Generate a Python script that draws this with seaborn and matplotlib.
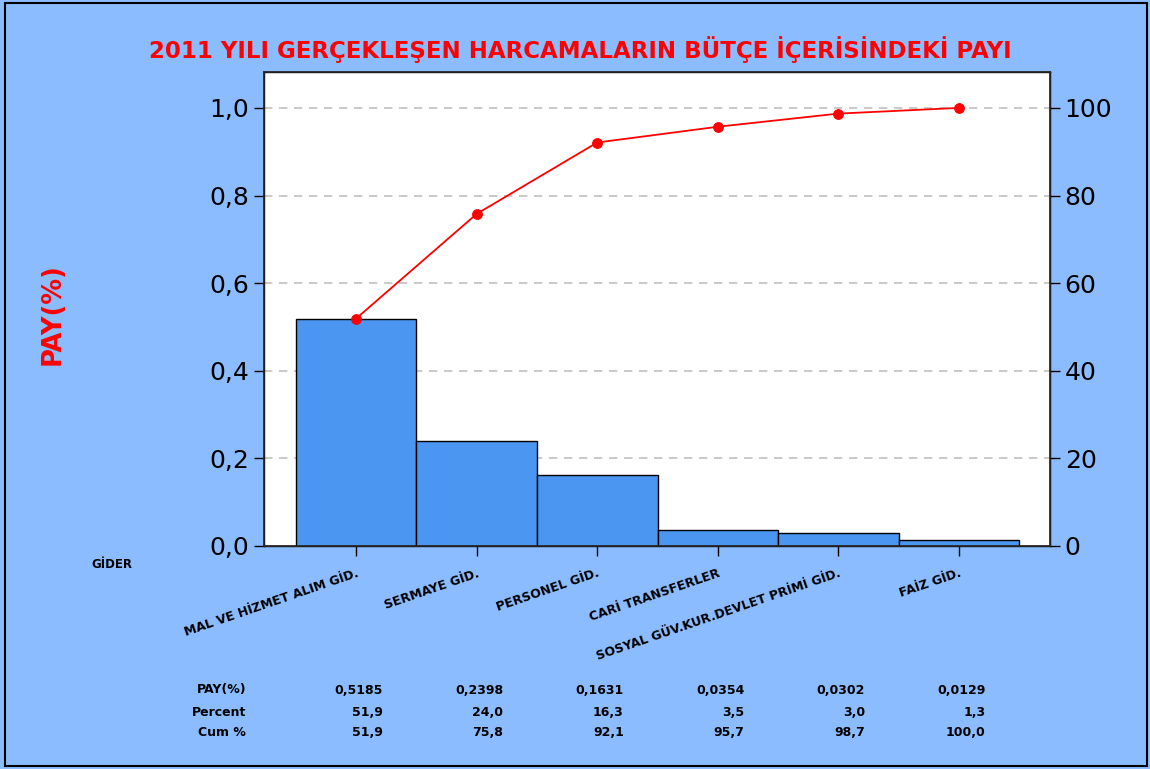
import matplotlib.pyplot as plt
import matplotlib.patches as mpatches
import matplotlib.transforms as mtransforms
from matplotlib.ticker import FuncFormatter
import numpy as np
import pandas as pd
import seaborn as sns

categories = ['MAL VE HİZMET ALIM GİD.', 'SERMAYE GİD.', 'PERSONEL GİD.',
              'CARİ TRANSFERLER', 'SOSYAL GÜV.KUR.DEVLET PRİMİ GİD.', 'FAİZ GİD.']
pay = [0.5185, 0.2398, 0.1631, 0.0354, 0.0302, 0.0129]
percent_lbl = ['51,9', '24,0', '16,3', '3,5', '3,0', '1,3']
cum_pct = [51.9, 75.8, 92.1, 95.7, 98.7, 100.0]
cum_lbl = ['51,9', '75,8', '92,1', '95,7', '98,7', '100,0']
pay_lbl = ['0,5185', '0,2398', '0,1631', '0,0354', '0,0302', '0,0129']

bg = '#8bbcff'
bar_color = '#4a96f0'

sns.set_theme(style='white')
plt.rcParams['font.family'] = ['DejaVu Sans']
plt.rcParams['text.color'] = 'black'
plt.rcParams['axes.labelcolor'] = 'black'
plt.rcParams['xtick.color'] = 'black'
plt.rcParams['ytick.color'] = 'black'

df = pd.DataFrame({'gider': categories, 'pay': pay})

fig = plt.figure(figsize=(11.5, 7.69), dpi=100, facecolor=bg)
ax = fig.add_axes([0.2296, 0.29, 0.6835, 0.6164])
ax.set_facecolor('white')

sns.barplot(data=df, x='gider', y='pay', color=bar_color, saturation=1,
            width=1.0, edgecolor='black', linewidth=1.0, ax=ax, zorder=3)

ymax = 1.082
ax.set_ylim(0, ymax)
ax.set_xlim(-0.763, 5.755)
ax.set_yticks([0, 0.2, 0.4, 0.6, 0.8, 1.0])
ax.yaxis.set_major_formatter(FuncFormatter(lambda v, p: f'{v:.1f}'.replace('.', ',')))
for yv in [0.2, 0.4, 0.6, 0.8, 1.0]:
    ax.axhline(yv, color='#c0c0c0', linestyle=(0, (5, 4)), linewidth=1.2, zorder=1)

ax.tick_params(axis='y', which='major', direction='out', length=7, width=1,
               labelsize=18, colors='black', left=True)
ax.tick_params(axis='x', which='major', direction='out', length=7, width=1,
               bottom=True, pad=8)
ax.set_xticks(range(len(categories)))
ax.set_xticklabels(categories, rotation=19, ha='right', va='top',
                   rotation_mode='anchor', fontsize=9, fontweight='bold')
ax.set_xlabel('')
ax.set_ylabel('PAY(%)', color='red', fontsize=18.5, fontweight='bold')
ax.yaxis.set_label_coords(-0.253, 0.49)
for s in ax.spines.values():
    s.set_color('black')
    s.set_linewidth(1.0)

ax2 = ax.twinx()
x_pos = np.arange(len(categories))
sns.lineplot(x=x_pos, y=cum_pct, ax=ax2, color='red', linewidth=1.3,
             marker='o', markersize=7, markeredgecolor='red', zorder=5)
ax2.set_ylim(0, ymax * 100)
ax2.set_yticks([0, 20, 40, 60, 80, 100])
ax2.tick_params(axis='y', direction='out', length=7, width=1, labelsize=18,
                colors='black', right=True)
ax2.set_ylabel('')
ax2.grid(False)

fig.text(0.505, 0.935, '2011 YILI GERÇEKLEŞEN HARCAMALARIN BÜTÇE İÇERİSİNDEKİ PAYI',
         color='red', fontsize=16.5, fontweight='bold', ha='center', va='center')
fig.text(112 / 1150, 1 - 565 / 769, 'GİDER', fontsize=8.5, fontweight='bold',
         ha='center', va='center')

# summary table under the chart
trans = mtransforms.blended_transform_factory(ax.transData, fig.transFigure)
rows = [('PAY(%)', pay_lbl, 690), ('Percent', percent_lbl, 712), ('Cum %', cum_lbl, 733)]
for name, vals, ypx in rows:
    fy = 1 - ypx / 769
    fig.text(246 / 1150, fy, name, fontsize=9, fontweight='bold', ha='right', va='center')
    for i, v in enumerate(vals):
        ax.text(i + 0.22, fy, v, transform=trans, fontsize=9, fontweight='bold',
                ha='right', va='center', clip_on=False)

fig.patches.append(mpatches.Rectangle((5 / 1150, 3 / 769), 1142 / 1150, 763 / 769,
                                      transform=fig.transFigure, fill=False,
                                      edgecolor='black', linewidth=1.5))

fig.savefig('out.png', dpi=100, facecolor=bg)
